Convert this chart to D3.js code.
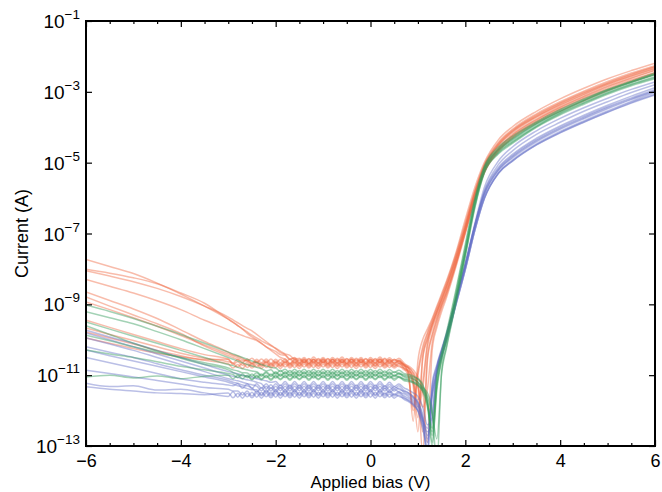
<!DOCTYPE html>
<html>
<head>
<meta charset="utf-8">
<script src="https://cdn.jsdelivr.net/npm/d3@7"></script>
<style>
body { margin: 0; background: #fff; }
text { font-family: "Liberation Sans", Arial, sans-serif; fill: #000; }
</style>
</head>
<body>
<svg id="chart" width="662" height="492"></svg>
<script>
// bias points (V) shared by every sweep
const bias = [-6,-5.5,-5,-4.5,-4,-3.5,
  -3,-2.9,-2.8,-2.7,-2.6,-2.5,-2.4,-2.3,-2.2,-2.1,
  -2,-1.9,-1.8,-1.7,-1.6,-1.5,-1.4,-1.3,-1.2,-1.1,
  -1,-0.9,-0.8,-0.7,-0.6,-0.5,-0.4,-0.3,-0.2,-0.1,
  0,0.1,0.2,0.3,0.4,0.5,0.6,0.7,0.8,0.9,
  1,1.1,1.2,1.3,1.4,1.5,1.6,1.8,2,2.2,2.4,2.7,3,3.5,4,4.5,5,5.5,6];

// log10 of |current| (A), one row per device
const orangeLogI = [
  [-7.73,-7.93,-8.13,-8.4,-8.71,-9.05,
   -9.42,-9.5,-9.6,-9.7,-9.82,-9.92,-10.0,-10.1,-10.2,-10.27,
   -10.33,-10.42,-10.44,-10.56,-10.5,-10.6,-10.5,-10.61,-10.49,-10.6,
   -10.5,-10.61,-10.5,-10.6,-10.49,-10.61,-10.5,-10.6,-10.5,-10.62,
   -10.5,-10.6,-10.49,-10.61,-10.51,-10.6,-10.52,-10.65,-10.8,-11.15,
   -12.2,-10.5,-9.95,-9.55,-9.2,-8.85,-8.5,-7.7,-6.8,-5.85,-5.1,-4.48,-4.1,-3.68,-3.33,-3.03,-2.76,-2.52,-2.3],
  [-8.01,-8.12,-8.25,-8.42,-8.68,-8.97,
   -9.42,-9.51,-9.6,-9.69,-9.78,-9.87,-9.95,-10.03,-10.1,-10.17,
   -10.24,-10.32,-10.4,-10.44,-10.55,-10.52,-10.64,-10.53,-10.63,-10.53,
   -10.64,-10.53,-10.63,-10.52,-10.64,-10.53,-10.63,-10.52,-10.64,-10.53,
   -10.63,-10.53,-10.64,-10.52,-10.63,-10.55,-10.66,-10.7,-10.95,-12.3,
   -10.6,-10.0,-9.7,-9.4,-9.05,-8.7,-8.35,-7.55,-6.6,-5.7,-5.0,-4.35,-3.98,-3.55,-3.2,-2.9,-2.63,-2.4,-2.19],
  [-8.05,-8.2,-8.36,-8.55,-8.78,-9.05,
   -9.36,-9.44,-9.52,-9.6,-9.68,-9.75,-9.85,-9.95,-10.05,-10.15,
   -10.25,-10.36,-10.42,-10.54,-10.52,-10.65,-10.55,-10.66,-10.55,-10.65,
   -10.54,-10.66,-10.55,-10.65,-10.55,-10.66,-10.54,-10.65,-10.55,-10.66,
   -10.55,-10.65,-10.54,-10.66,-10.56,-10.65,-10.58,-10.72,-10.78,-10.92,
   -11.2,-12.6,-10.5,-9.85,-9.4,-9.0,-8.65,-7.82,-6.88,-5.95,-5.2,-4.58,-4.2,-3.77,-3.42,-3.12,-2.84,-2.6,-2.38],
  [-8.3,-8.49,-8.68,-8.9,-9.15,-9.45,
   -9.72,-9.78,-9.83,-9.88,-9.93,-9.97,-10.02,-10.1,-10.2,-10.3,
   -10.4,-10.5,-10.55,-10.68,-10.57,-10.68,-10.57,-10.68,-10.56,-10.67,
   -10.57,-10.68,-10.56,-10.67,-10.57,-10.68,-10.56,-10.67,-10.57,-10.68,
   -10.57,-10.67,-10.56,-10.68,-10.58,-10.67,-10.6,-10.7,-10.82,-11.1,
   -11.7,-11.2,-10.1,-9.6,-9.25,-8.9,-8.55,-7.75,-6.85,-5.9,-5.15,-4.52,-4.15,-3.72,-3.38,-3.08,-2.8,-2.56,-2.35],
  [-8.65,-8.89,-9.13,-9.4,-9.72,-10.05,
   -10.35,-10.42,-10.46,-10.52,-10.6,-10.52,-10.64,-10.54,-10.65,-10.54,
   -10.66,-10.55,-10.65,-10.54,-10.66,-10.55,-10.65,-10.54,-10.66,-10.55,
   -10.65,-10.54,-10.66,-10.55,-10.65,-10.54,-10.66,-10.55,-10.65,-10.54,
   -10.66,-10.55,-10.65,-10.54,-10.66,-10.56,-10.62,-10.7,-11.0,-11.9,
   -10.9,-10.2,-9.8,-9.45,-9.1,-8.75,-8.4,-7.6,-6.7,-5.8,-5.05,-4.42,-4.05,-3.62,-3.28,-2.98,-2.71,-2.47,-2.26],
  [-8.79,-9.05,-9.3,-9.55,-9.82,-10.18,
   -10.45,-10.5,-10.56,-10.6,-10.58,-10.7,-10.6,-10.7,-10.59,-10.7,
   -10.6,-10.71,-10.59,-10.7,-10.6,-10.71,-10.59,-10.7,-10.6,-10.71,
   -10.59,-10.7,-10.6,-10.71,-10.59,-10.7,-10.6,-10.71,-10.59,-10.7,
   -10.6,-10.71,-10.59,-10.7,-10.61,-10.7,-10.62,-10.74,-10.78,-10.95,
   -11.3,-11.9,-11.4,-10.1,-9.55,-9.1,-8.75,-7.9,-6.95,-6.0,-5.25,-4.62,-4.25,-3.82,-3.47,-3.17,-2.9,-2.66,-2.45],
  [-8.93,-9.15,-9.38,-9.62,-9.88,-10.15,
   -10.4,-10.45,-10.5,-10.56,-10.6,-10.66,-10.62,-10.73,-10.62,-10.73,
   -10.63,-10.74,-10.62,-10.73,-10.63,-10.74,-10.62,-10.73,-10.63,-10.74,
   -10.62,-10.73,-10.63,-10.74,-10.62,-10.73,-10.63,-10.74,-10.62,-10.73,
   -10.63,-10.74,-10.62,-10.73,-10.64,-10.74,-10.66,-10.78,-10.9,-11.3,
   -12.6,-10.55,-10.0,-9.6,-9.22,-8.88,-8.52,-7.72,-6.82,-5.88,-5.12,-4.5,-4.12,-3.7,-3.36,-3.06,-2.78,-2.55,-2.33],
  [-9.45,-9.65,-9.85,-10.05,-10.25,-10.42,
   -10.55,-10.7,-10.62,-10.72,-10.64,-10.75,-10.64,-10.75,-10.64,-10.76,
   -10.65,-10.75,-10.64,-10.76,-10.65,-10.75,-10.64,-10.76,-10.65,-10.75,
   -10.64,-10.76,-10.65,-10.75,-10.64,-10.76,-10.65,-10.75,-10.64,-10.76,
   -10.65,-10.75,-10.64,-10.76,-10.66,-10.76,-10.68,-10.8,-11.05,-12.0,
   -11.0,-10.3,-9.85,-9.5,-9.15,-8.8,-8.45,-7.65,-6.75,-5.82,-5.08,-4.45,-4.08,-3.65,-3.31,-3.01,-2.74,-2.5,-2.29],
  [-9.67,-9.85,-10.02,-10.2,-10.38,-10.52,
   -10.62,-10.66,-10.77,-10.66,-10.78,-10.67,-10.77,-10.66,-10.78,-10.67,
   -10.78,-10.66,-10.77,-10.67,-10.78,-10.66,-10.77,-10.67,-10.78,-10.66,
   -10.77,-10.67,-10.78,-10.66,-10.77,-10.67,-10.78,-10.66,-10.77,-10.67,
   -10.78,-10.66,-10.77,-10.68,-10.78,-10.69,-10.76,-10.8,-10.9,-11.2,
   -11.9,-11.4,-10.2,-9.68,-9.33,-8.98,-8.64,-7.85,-6.95,-6.02,-5.28,-4.68,-4.3,-3.88,-3.55,-3.25,-2.97,-2.72,-2.5],
  [-9.78,-9.95,-10.12,-10.3,-10.45,-10.58,
   -10.68,-10.8,-10.7,-10.81,-10.69,-10.8,-10.7,-10.81,-10.69,-10.8,
   -10.7,-10.81,-10.69,-10.8,-10.7,-10.81,-10.69,-10.8,-10.7,-10.81,
   -10.69,-10.8,-10.7,-10.81,-10.69,-10.8,-10.7,-10.81,-10.69,-10.8,
   -10.7,-10.81,-10.69,-10.8,-10.71,-10.8,-10.72,-10.84,-10.88,-11.0,
   -11.35,-13.2,-10.6,-9.9,-9.45,-9.05,-8.7,-7.86,-6.92,-5.98,-5.22,-4.6,-4.22,-3.79,-3.44,-3.14,-2.86,-2.62,-2.4],
  [-9.95,-10.1,-10.25,-10.38,-10.48,-10.56,
   -10.55,-10.66,-10.55,-10.65,-10.54,-10.66,-10.55,-10.65,-10.54,-10.66,
   -10.55,-10.65,-10.54,-10.66,-10.55,-10.65,-10.54,-10.66,-10.55,-10.65,
   -10.54,-10.66,-10.55,-10.65,-10.54,-10.66,-10.55,-10.65,-10.54,-10.66,
   -10.55,-10.65,-10.54,-10.66,-10.56,-10.66,-10.58,-10.68,-10.74,-10.85,
   -11.05,-11.4,-12.9,-10.3,-9.65,-9.2,-8.82,-7.95,-7.0,-6.05,-5.28,-4.66,-4.28,-3.85,-3.5,-3.2,-2.93,-2.69,-2.47]
];

const greenLogI = [
  [-9.02,-9.2,-9.4,-9.62,-9.85,-10.1,
   -10.35,-10.4,-10.45,-10.5,-10.55,-10.6,-10.65,-10.7,-10.74,-10.78,
   -10.8,-10.9,-10.83,-10.93,-10.83,-10.93,-10.83,-10.94,-10.83,-10.93,
   -10.83,-10.94,-10.83,-10.93,-10.83,-10.94,-10.83,-10.93,-10.83,-10.94,
   -10.83,-10.93,-10.83,-10.94,-10.84,-10.93,-10.86,-10.95,-10.98,-11.02,
   -11.1,-11.25,-11.8,-12.5,-11.0,-10.35,-9.8,-8.6,-7.3,-6.0,-5.1,-4.55,-4.25,-3.85,-3.5,-3.2,-2.93,-2.7,-2.47],
  [-9.21,-9.38,-9.55,-9.77,-10.0,-10.25,
   -10.5,-10.55,-10.6,-10.65,-10.7,-10.74,-10.78,-10.82,-10.88,-10.85,
   -10.97,-10.86,-10.97,-10.87,-10.98,-10.87,-10.97,-10.87,-10.98,-10.87,
   -10.97,-10.87,-10.98,-10.87,-10.97,-10.87,-10.98,-10.87,-10.97,-10.87,
   -10.98,-10.87,-10.97,-10.88,-10.98,-10.9,-10.96,-10.99,-11.02,-11.05,
   -11.12,-11.3,-11.65,-12.9,-11.3,-10.55,-10.0,-8.8,-7.5,-6.15,-5.2,-4.65,-4.35,-3.92,-3.57,-3.26,-2.98,-2.74,-2.52],
  [-9.5,-9.7,-9.9,-10.1,-10.3,-10.5,
   -10.7,-10.73,-10.78,-10.82,-10.85,-10.88,-10.9,-11.0,-10.9,-11.0,
   -10.9,-11.01,-10.9,-11.0,-10.9,-11.01,-10.9,-11.0,-10.9,-11.01,
   -10.9,-11.0,-10.9,-11.01,-10.9,-11.0,-10.9,-11.01,-10.9,-11.0,
   -10.9,-11.01,-10.9,-11.0,-10.91,-11.01,-10.93,-11.02,-11.05,-11.1,
   -11.2,-11.35,-11.5,-12.0,-13.5,-10.9,-10.2,-8.95,-7.6,-6.25,-5.28,-4.72,-4.42,-3.98,-3.62,-3.32,-3.04,-2.8,-2.6],
  [-9.87,-10.03,-10.2,-10.35,-10.5,-10.65,
   -10.8,-10.85,-10.88,-10.93,-10.94,-11.03,-10.93,-11.03,-10.93,-11.04,
   -10.93,-11.03,-10.93,-11.04,-10.93,-11.03,-10.93,-11.04,-10.93,-11.03,
   -10.93,-11.04,-10.93,-11.03,-10.93,-11.04,-10.93,-11.03,-10.93,-11.04,
   -10.93,-11.03,-10.93,-11.04,-10.94,-11.04,-10.96,-11.05,-11.08,-11.12,
   -11.2,-11.38,-11.75,-12.7,-11.25,-10.5,-9.95,-8.78,-7.48,-6.12,-5.18,-4.63,-4.33,-3.9,-3.55,-3.24,-2.96,-2.72,-2.5],
  [-10.29,-10.4,-10.5,-10.62,-10.75,-10.85,
   -10.95,-10.98,-11.07,-10.97,-11.07,-10.97,-11.08,-10.97,-11.07,-10.97,
   -11.08,-10.97,-11.07,-10.97,-11.08,-10.97,-11.07,-10.97,-11.08,-10.97,
   -11.07,-10.97,-11.08,-10.97,-11.07,-10.97,-11.08,-10.97,-11.07,-10.97,
   -11.08,-10.97,-11.07,-10.98,-11.08,-11.0,-11.06,-11.1,-11.12,-11.18,
   -11.25,-11.4,-11.6,-12.1,-12.8,-10.95,-10.25,-8.98,-7.65,-6.28,-5.3,-4.75,-4.45,-4.0,-3.65,-3.35,-3.07,-2.83,-2.63],
  [-11.05,-11.0,-11.08,-11.02,-11.1,-11.03,
   -11.0,-11.1,-11.0,-11.1,-11.0,-11.11,-11.0,-11.1,-11.0,-11.11,
   -11.0,-11.1,-11.0,-11.11,-11.0,-11.1,-11.0,-11.11,-11.0,-11.1,
   -11.0,-11.11,-11.0,-11.1,-11.0,-11.11,-11.0,-11.1,-11.0,-11.11,
   -11.0,-11.1,-11.0,-11.11,-11.01,-11.1,-11.03,-11.12,-11.15,-11.2,
   -11.28,-11.45,-11.9,-12.6,-11.1,-10.42,-9.88,-8.68,-7.38,-6.06,-5.14,-4.6,-4.3,-3.88,-3.53,-3.23,-2.95,-2.72,-2.5],
  [-9.6,-9.85,-10.1,-10.32,-10.52,-10.7,
   -10.85,-10.92,-10.98,-11.02,-11.03,-11.13,-11.03,-11.13,-11.03,-11.14,
   -11.03,-11.13,-11.03,-11.14,-11.03,-11.13,-11.03,-11.14,-11.03,-11.13,
   -11.03,-11.14,-11.03,-11.13,-11.03,-11.14,-11.03,-11.13,-11.03,-11.14,
   -11.03,-11.13,-11.03,-11.14,-11.04,-11.14,-11.06,-11.15,-11.18,-11.22,
   -11.3,-11.45,-11.8,-13.0,-11.4,-10.6,-10.05,-8.85,-7.55,-6.2,-5.24,-4.69,-4.39,-3.96,-3.6,-3.3,-3.02,-2.78,-2.57]
];

const blueLogI = [
  [-9.73,-9.92,-10.1,-10.3,-10.5,-10.7,
   -10.9,-10.93,-10.96,-11.0,-11.03,-11.06,-11.1,-11.13,-11.16,-11.2,
   -11.18,-11.3,-11.18,-11.32,-11.18,-11.31,-11.18,-11.32,-11.18,-11.31,
   -11.18,-11.32,-11.18,-11.31,-11.18,-11.32,-11.18,-11.31,-11.18,-11.32,
   -11.18,-11.31,-11.18,-11.32,-11.2,-11.32,-11.25,-11.35,-11.42,-11.5,
   -11.6,-11.9,-12.4,-12.2,-10.8,-10.3,-9.85,-8.85,-7.85,-6.72,-5.7,-4.95,-4.55,-4.1,-3.75,-3.45,-3.18,-2.93,-2.72],
  [-9.81,-10.0,-10.2,-10.4,-10.6,-10.8,
   -11.0,-11.03,-11.06,-11.1,-11.13,-11.16,-11.2,-11.24,-11.38,-11.27,
   -11.42,-11.28,-11.41,-11.28,-11.42,-11.28,-11.41,-11.28,-11.42,-11.28,
   -11.41,-11.28,-11.42,-11.28,-11.41,-11.28,-11.42,-11.28,-11.41,-11.28,
   -11.42,-11.28,-11.41,-11.3,-11.42,-11.33,-11.4,-11.45,-11.5,-11.6,
   -11.75,-12.1,-12.8,-11.5,-10.9,-10.45,-10.0,-9.0,-8.0,-6.9,-6.0,-5.3,-4.95,-4.5,-4.15,-3.85,-3.57,-3.3,-3.07],
  [-9.95,-10.12,-10.3,-10.5,-10.7,-10.9,
   -11.1,-11.13,-11.16,-11.2,-11.24,-11.27,-11.31,-11.44,-11.31,-11.45,
   -11.31,-11.44,-11.31,-11.45,-11.31,-11.44,-11.31,-11.45,-11.31,-11.44,
   -11.31,-11.45,-11.31,-11.44,-11.31,-11.45,-11.31,-11.44,-11.31,-11.45,
   -11.31,-11.44,-11.31,-11.45,-11.33,-11.45,-11.36,-11.48,-11.55,-11.65,
   -11.8,-12.3,-13.2,-11.3,-10.75,-10.3,-9.88,-8.9,-7.9,-6.8,-5.9,-5.2,-4.83,-4.38,-4.03,-3.73,-3.45,-3.2,-2.97],
  [-10.2,-10.35,-10.5,-10.68,-10.85,-11.0,
   -11.15,-11.2,-11.23,-11.28,-11.3,-11.36,-11.48,-11.35,-11.49,-11.35,
   -11.48,-11.35,-11.49,-11.35,-11.48,-11.35,-11.49,-11.35,-11.48,-11.35,
   -11.49,-11.35,-11.48,-11.35,-11.49,-11.35,-11.48,-11.35,-11.49,-11.35,
   -11.48,-11.35,-11.49,-11.37,-11.49,-11.4,-11.48,-11.52,-11.6,-11.7,
   -11.85,-12.25,-12.5,-11.6,-10.95,-10.48,-10.03,-9.03,-8.02,-6.92,-6.02,-5.28,-4.92,-4.47,-4.12,-3.82,-3.54,-3.27,-3.02],
  [-10.29,-10.45,-10.6,-10.75,-10.9,-11.05,
   -11.2,-11.25,-11.3,-11.33,-11.38,-11.41,-11.41,-11.55,-11.41,-11.54,
   -11.41,-11.55,-11.41,-11.54,-11.41,-11.55,-11.41,-11.54,-11.41,-11.55,
   -11.41,-11.54,-11.41,-11.55,-11.41,-11.54,-11.41,-11.55,-11.41,-11.54,
   -11.41,-11.55,-11.41,-11.54,-11.43,-11.55,-11.46,-11.58,-11.65,-11.75,
   -11.9,-12.2,-12.7,-12.0,-10.85,-10.35,-9.9,-8.9,-7.9,-6.78,-5.8,-5.05,-4.66,-4.2,-3.86,-3.55,-3.28,-3.02,-2.8],
  [-10.86,-10.95,-11.05,-11.15,-11.25,-11.35,
   -11.4,-11.45,-11.45,-11.56,-11.45,-11.59,-11.45,-11.58,-11.45,-11.59,
   -11.45,-11.58,-11.45,-11.59,-11.45,-11.58,-11.45,-11.59,-11.45,-11.58,
   -11.45,-11.59,-11.45,-11.58,-11.45,-11.59,-11.45,-11.58,-11.45,-11.59,
   -11.45,-11.58,-11.45,-11.59,-11.47,-11.59,-11.5,-11.62,-11.7,-11.8,
   -12.0,-12.5,-13.0,-11.4,-10.8,-10.33,-9.9,-8.92,-7.92,-6.82,-5.92,-5.22,-4.86,-4.41,-4.06,-3.76,-3.48,-3.22,-2.99],
  [-11.23,-11.32,-11.3,-11.42,-11.4,-11.5,
   -11.6,-11.47,-11.62,-11.48,-11.61,-11.48,-11.62,-11.48,-11.61,-11.48,
   -11.62,-11.48,-11.61,-11.48,-11.62,-11.48,-11.61,-11.48,-11.62,-11.48,
   -11.61,-11.48,-11.62,-11.48,-11.61,-11.48,-11.62,-11.48,-11.61,-11.48,
   -11.62,-11.48,-11.61,-11.5,-11.62,-11.53,-11.6,-11.65,-11.72,-11.82,
   -12.0,-12.4,-12.9,-11.55,-10.92,-10.46,-10.02,-9.02,-8.02,-6.92,-6.02,-5.3,-4.95,-4.5,-4.16,-3.86,-3.58,-3.32,-3.09],
  [-11.33,-11.4,-11.45,-11.5,-11.52,-11.55,
   -11.5,-11.64,-11.51,-11.65,-11.51,-11.64,-11.51,-11.65,-11.51,-11.64,
   -11.51,-11.65,-11.51,-11.64,-11.51,-11.65,-11.51,-11.64,-11.51,-11.65,
   -11.51,-11.64,-11.51,-11.65,-11.51,-11.64,-11.51,-11.65,-11.51,-11.64,
   -11.51,-11.65,-11.51,-11.64,-11.53,-11.65,-11.56,-11.68,-11.75,-11.85,
   -12.0,-12.3,-12.6,-12.3,-10.85,-10.35,-9.9,-8.88,-7.88,-6.78,-5.83,-5.13,-4.76,-4.31,-3.96,-3.66,-3.38,-3.12,-2.88],
  [-10.5,-10.65,-10.8,-10.95,-11.1,-11.2,
   -11.28,-11.3,-11.24,-11.37,-11.24,-11.38,-11.24,-11.37,-11.24,-11.38,
   -11.24,-11.37,-11.24,-11.38,-11.24,-11.37,-11.24,-11.38,-11.24,-11.37,
   -11.24,-11.38,-11.24,-11.37,-11.24,-11.38,-11.24,-11.37,-11.24,-11.38,
   -11.24,-11.37,-11.24,-11.38,-11.26,-11.38,-11.3,-11.42,-11.5,-11.62,
   -11.78,-12.2,-13.4,-11.25,-10.7,-10.25,-9.83,-8.85,-7.85,-6.75,-5.86,-5.17,-4.8,-4.35,-4.0,-3.7,-3.42,-3.17,-2.94]
];

const xMajorTicks = [-6, -4, -2, 0, 2, 4, 6];
const xMinorTicks = [-5.5,-5,-4.5,-3.5,-3,-2.5,-1.5,-1,-0.5,0.5,1,1.5,2.5,3,3.5,4.5,5,5.5];
const yTickExponents = [-1, -3, -5, -7, -9, -11, -13];

const svg = d3.select('#chart');
const plotLeft = 86, plotRight = 655, plotTop = 21, plotBottom = 446;

const x = d3.scaleLinear().domain([-6, 6]).range([plotLeft, plotRight]);
const y = d3.scaleLog().domain([1e-13, 1e-1]).range([plotBottom, plotTop]);

svg.append('clipPath').attr('id', 'plot-clip')
  .append('rect')
  .attr('x', plotLeft).attr('y', plotTop)
  .attr('width', plotRight - plotLeft).attr('height', plotBottom - plotTop);

const line = d3.line()
  .x((d, i) => x(bias[i]))
  .y(d => y(Math.pow(10, d)))
  .curve(d3.curveMonotoneX);

const curves = svg.append('g').attr('clip-path', 'url(#plot-clip)');

function drawGroup(rows, color) {
  curves.append('g')
    .selectAll('path')
    .data(rows)
    .enter()
    .append('path')
    .attr('d', line)
    .attr('fill', 'none')
    .attr('stroke', color)
    .attr('stroke-width', 1.5)
    .attr('stroke-opacity', 0.45);
}

drawGroup(orangeLogI, '#f06a45');
drawGroup(blueLogI, '#6670c8');
drawGroup(greenLogI, '#339c5c');

// ticks point inwards on every side
const bottomAxis = svg.append('g')
  .attr('transform', `translate(0,${plotBottom})`)
  .call(d3.axisBottom(x).tickValues(xMajorTicks).tickSize(-6).tickPadding(8));
svg.append('g')
  .attr('transform', `translate(0,${plotBottom})`)
  .call(d3.axisBottom(x).tickValues(xMinorTicks).tickSize(-3).tickFormat(''));
svg.append('g')
  .attr('transform', `translate(0,${plotTop})`)
  .call(d3.axisTop(x).tickValues(xMajorTicks).tickSize(-6).tickFormat(''));
svg.append('g')
  .attr('transform', `translate(0,${plotTop})`)
  .call(d3.axisTop(x).tickValues(xMinorTicks).tickSize(-3).tickFormat(''));

const yVals = yTickExponents.map(e => Math.pow(10, e));
svg.append('g')
  .attr('transform', `translate(${plotLeft},0)`)
  .call(d3.axisLeft(y).tickValues(yVals).tickSize(-6).tickFormat(''));
svg.append('g')
  .attr('transform', `translate(${plotRight},0)`)
  .call(d3.axisRight(y).tickValues(yVals).tickSize(-6).tickFormat(''));

svg.selectAll('.domain').remove();
svg.selectAll('.tick line').attr('stroke', '#000').attr('stroke-width', 1.2);

bottomAxis.selectAll('.tick text')
  .attr('font-size', 18)
  .attr('font-family', '"Liberation Sans", Arial, sans-serif');

// y tick labels as 10 with superscript exponent
const yLabels = svg.append('g');
yTickExponents.forEach(e => {
  const t = yLabels.append('text')
    .attr('x', plotLeft - 6)
    .attr('y', y(Math.pow(10, e)) + 7)
    .attr('text-anchor', 'end')
    .attr('font-size', 19);
  t.append('tspan').text('10');
  t.append('tspan')
    .attr('font-size', 13.5)
    .attr('dy', -9)
    .text('\u2212' + Math.abs(e));
});

svg.append('rect')
  .attr('x', plotLeft).attr('y', plotTop)
  .attr('width', plotRight - plotLeft).attr('height', plotBottom - plotTop)
  .attr('fill', 'none')
  .attr('stroke', '#000')
  .attr('stroke-width', 2);

svg.append('text')
  .attr('x', (plotLeft + plotRight) / 2)
  .attr('y', 488)
  .attr('text-anchor', 'middle')
  .attr('font-size', 17)
  .text('Applied bias (V)');

svg.append('text')
  .attr('transform', `translate(28,${(plotTop + plotBottom) / 2}) rotate(-90)`)
  .attr('text-anchor', 'middle')
  .attr('font-size', 18)
  .text('Current (A)');
</script>
</body>
</html>
